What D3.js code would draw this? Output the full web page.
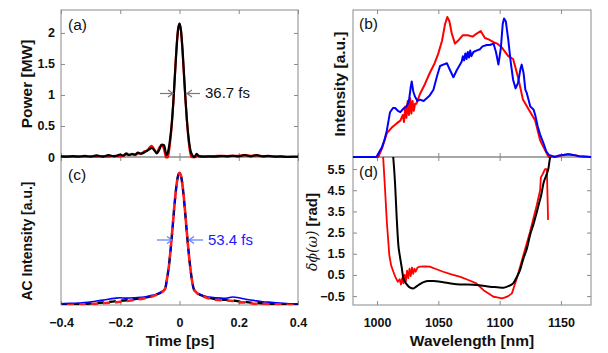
<!DOCTYPE html>
<html><head><meta charset="utf-8">
<script src="https://cdn.jsdelivr.net/npm/d3@7"></script>
<style>
body{margin:0;background:#fff}
svg{display:block;background:#fff}
text{font-family:"Liberation Sans",Arial,sans-serif}
</style>
</head><body>
<svg id="c" width="608" height="353"></svg>
<script>
// ---------- DATA ----------
// (a) temporal power [MW]
const powerTime = [-0.4,-0.38,-0.36,-0.34,-0.32,-0.3,-0.28,-0.26,-0.24,-0.22,-0.2,-0.19,-0.18,-0.17,-0.16,-0.15,-0.14,-0.13,-0.12,-0.11,-0.1,-0.094,-0.085,-0.077,-0.068,-0.06,-0.052,-0.044,-0.038,-0.032,-0.026,-0.02,-0.015,-0.01,-0.005,0,0.005,0.01,0.015,0.02,0.025,0.03,0.035,0.04,0.05,0.058,0.066,0.08,0.1,0.12,0.14,0.16,0.18,0.2,0.22,0.24,0.26,0.28,0.3,0.32,0.34,0.36,0.38,0.4];
const powerBlack = [0.01,0.005,0.015,0.005,0.02,0.005,0.025,0.005,0.03,0.01,0.04,0.02,0.06,0.035,0.045,0.04,0.07,0.055,0.07,0.10,0.13,0.145,0.11,0.06,0.12,0.20,0.19,0.03,0.10,0.28,0.55,0.95,1.35,1.75,2.04,2.15,2.04,1.75,1.35,0.95,0.60,0.34,0.16,0.06,0.0,0.05,0.01,0.005,0.01,0.005,0.015,0.01,0.02,0.01,0.03,0.01,0.03,0.01,0.02,0.005,0.01,0.0,0.005,0.005];
const powerRed   = [0.005,0.01,0.005,0.01,0.005,0.01,0.005,0.015,0.005,0.02,0.01,0.02,0.04,0.03,0.05,0.03,0.06,0.05,0.09,0.10,0.16,0.18,0.12,0.07,0.15,0.19,0.12,-0.03,0.02,0.22,0.52,0.95,1.37,1.77,2.06,2.15,2.03,1.72,1.32,0.93,0.58,0.30,0.10,0.0,-0.01,0.01,0.02,0.01,0.01,0.015,0.02,0.015,0.02,0.02,0.03,0.02,0.025,0.015,0.01,0.01,0.005,0.005,0.0,0.0];

// (c) autocorrelation (normalized)
const acTime = [-0.4,-0.37,-0.34,-0.31,-0.28,-0.25,-0.22,-0.2,-0.18,-0.15,-0.12,-0.1,-0.08,-0.065,-0.055,-0.048,-0.042,-0.036,-0.03,-0.024,-0.018,-0.012,-0.006,0,0.006,0.012,0.018,0.024,0.03,0.036,0.042,0.048,0.055,0.065,0.08,0.1,0.12,0.15,0.18,0.2,0.22,0.25,0.28,0.31,0.34,0.37,0.4];
const acBlue  = [0.01,0.012,0.015,0.02,0.03,0.04,0.05,0.055,0.052,0.055,0.06,0.07,0.08,0.095,0.11,0.13,0.20,0.29,0.42,0.57,0.73,0.87,0.967,1.0,0.967,0.87,0.73,0.57,0.42,0.29,0.19,0.12,0.10,0.085,0.07,0.06,0.055,0.05,0.06,0.055,0.045,0.035,0.025,0.02,0.015,0.01,0.01];
const acRed   = [0.0,0.0,0.002,0.005,0.01,0.015,0.02,0.025,0.03,0.04,0.05,0.06,0.075,0.09,0.105,0.125,0.20,0.29,0.42,0.57,0.73,0.87,0.967,1.0,0.967,0.87,0.73,0.57,0.42,0.29,0.19,0.12,0.10,0.08,0.065,0.05,0.04,0.035,0.03,0.02,0.02,0.01,0.01,0.005,0.005,0.0,0.0];
const acBlack = [0.004,0.004,0.006,0.01,0.015,0.02,0.027,0.032,0.036,0.045,0.055,0.064,0.078,0.092,0.107,0.127,0.20,0.29,0.42,0.57,0.73,0.87,0.967,1.0,0.967,0.87,0.73,0.57,0.42,0.29,0.19,0.122,0.102,0.083,0.068,0.055,0.045,0.04,0.035,0.027,0.024,0.015,0.013,0.008,0.007,0.003,0.003];

// (b) spectra (normalized)
const specRedWl  = [980,1001,1004,1008,1012,1016,1019,1021,1022,1023,1024,1025,1026,1027,1028,1029,1030,1031,1032,1035,1039,1043,1047,1050,1053,1055.5,1057.3,1059,1061,1063.6,1066,1070,1074,1078,1081,1084.5,1088,1091,1095,1098,1102,1107,1111,1115,1119,1123,1129,1133,1137,1140,1148,1152,1156,1160,1165,1175];
const specRedVal = [0,0,0.06,0.17,0.21,0.24,0.26,0.30,0.25,0.36,0.28,0.40,0.30,0.42,0.31,0.40,0.33,0.38,0.38,0.45,0.52,0.60,0.67,0.74,0.83,0.95,1.0,0.97,0.88,0.81,0.83,0.87,0.87,0.86,0.88,0.90,0.85,0.84,0.82,0.81,0.78,0.72,0.70,0.57,0.41,0.35,0.26,0.12,0.05,0,0.005,0.015,0.02,0.015,0.005,0];
const specBlueWl  = [980,999.5,1002,1004,1006,1008,1010.6,1013,1014.7,1017,1019,1022,1024,1026,1027.5,1028.3,1029.5,1031,1033,1035,1038,1040.5,1043,1046,1049,1051.4,1054,1057,1059,1062.3,1065,1067.7,1069,1070,1071,1072,1073,1074,1075,1076,1077,1078.6,1081,1084,1086,1089.5,1092,1095,1097,1099,1101,1102.5,1103.6,1105,1107,1109,1111,1113,1115,1117,1118,1119.5,1121,1122,1125,1127.6,1129,1131,1133,1135.7,1138,1140,1142,1145,1148,1152,1156,1160,1165,1175];
const specBlueVal = [0,0,0.04,0.07,0.12,0.19,0.32,0.35,0.35,0.33,0.32,0.35,0.36,0.40,0.50,0.54,0.47,0.43,0.40,0.41,0.40,0.42,0.44,0.48,0.58,0.65,0.66,0.67,0.63,0.57,0.62,0.66,0.68,0.72,0.69,0.74,0.70,0.75,0.71,0.76,0.72,0.75,0.76,0.77,0.79,0.80,0.80,0.81,0.75,0.66,0.78,0.95,0.99,0.97,0.84,0.68,0.55,0.49,0.53,0.63,0.66,0.60,0.48,0.46,0.36,0.34,0.30,0.22,0.16,0.10,0.04,0.015,0.01,0.0,0.01,0.015,0.02,0.015,0.005,0];

// (d) spectral phase [rad]
const phaseBlackWl  = [1012.5,1013.3,1014.7,1016,1017.4,1018.5,1020,1021.5,1022.8,1025,1027,1029.6,1032,1035,1038,1041.8,1046,1051.4,1058,1068,1078.6,1085,1092,1098,1103,1107,1111,1114,1116.6,1119.4,1122,1124.8,1127.6,1130,1132,1134,1135.7,1138,1139.8,1141,1142.5,1144];
const phaseBlackVal = [6.5,6.0,4.82,3.25,1.9,1.44,0.9,0.34,0.18,0.0,-0.1,-0.14,-0.05,0.07,0.16,0.21,0.21,0.18,0.12,0.05,0.04,0.0,-0.06,-0.08,-0.1,-0.03,0.1,0.4,0.73,1.28,1.7,2.38,2.9,3.4,3.85,4.3,4.82,5.2,5.53,6.0,6.3,6.5];
const phaseRedWl  = [1004.5,1005,1006.5,1008,1010,1011.5,1013.3,1015,1017,1018.5,1019.5,1020.5,1021.5,1022.5,1023.5,1024.5,1025.5,1026.5,1027.5,1028.5,1029.5,1030.5,1031.5,1033,1035,1039,1043,1048,1054,1060,1068,1075,1081,1086.8,1091,1095,1098,1101.7,1104,1107,1110,1114,1119.4,1124.8,1130.3,1133,1133.6,1135,1137,1138.5,1139.5];
const phaseRedVal = [6.5,6.05,4.59,3.0,1.44,0.95,0.65,0.40,0.18,0.30,0.05,0.35,0.10,0.50,0.20,0.70,0.35,0.80,0.45,0.85,0.55,0.80,0.65,0.85,0.89,0.90,0.89,0.78,0.65,0.54,0.41,0.25,0.10,-0.22,-0.38,-0.53,-0.56,-0.61,-0.57,-0.5,-0.37,0.34,1.44,2.54,3.8,4.5,5.1,5.25,5.5,5.5,3.1];

// tick values
const timeTicks = [-0.4,-0.2,0,0.2,0.4];
const powerTicks = [0,0.5,1,1.5,2];
const wlTicks = [1000,1050,1100,1150];
const phaseTicks = [-0.5,0.5,1.5,2.5,3.5,4.5,5.5];

// ---------- LAYOUT ----------
const svg = d3.select("#c");
const Lx = [61,298], Rx = [353,591];
const yTop = 10, yMid = 157, yBot = 305;
const gray = "#8a8a8a";

const xT = d3.scaleLinear([-0.4,0.4], Lx);
const yA = d3.scaleLinear([0,2.37], [yMid,yTop]);
const yC = d3.scaleLinear([0,1.12], [yBot,yMid]);
const xW = d3.scaleLinear([980.4,1174.5], Rx);
const yB = d3.scaleLinear([0,1.05], [yMid,yTop]);
const yD = d3.scaleLinear([-0.92,6.07], [yBot,yMid]);

const defs = svg.append("defs");
function clip(id,x0,y0,x1,y1){
  defs.append("clipPath").attr("id",id).append("rect")
    .attr("x",x0).attr("y",y0).attr("width",x1-x0).attr("height",y1-y0);
  return "url(#"+id+")";
}

// frames
[[Lx,yTop,yMid],[Lx,yMid,yBot],[Rx,yTop,yMid],[Rx,yMid,yBot]].forEach(([xr,y0,y1])=>{
  svg.append("rect").attr("x",xr[0]).attr("y",y0).attr("width",xr[1]-xr[0]).attr("height",y1-y0)
    .attr("fill","none").attr("stroke",gray).attr("stroke-width",1);
});

// axes helper
function styleAxis(g){
  g.select(".domain").remove();
  g.selectAll(".tick line").attr("stroke",gray);
  g.selectAll(".tick text").attr("fill","#111").attr("font-weight","bold").attr("font-size","12.5px")
    .style("font-family",'"Liberation Sans",Arial,sans-serif');
}
function axis(gen, tx, ty){
  const g = svg.append("g").attr("transform",`translate(${tx},${ty})`).call(gen);
  styleAxis(g); return g;
}
const TS = -4;
// left panels x ticks
axis(d3.axisBottom(xT).tickValues(timeTicks).tickSizeInner(TS).tickSizeOuter(0).tickFormat(""),0,yMid);
axis(d3.axisTop(xT).tickValues(timeTicks).tickSizeInner(TS).tickSizeOuter(0).tickFormat(""),0,yTop);
axis(d3.axisTop(xT).tickValues(timeTicks).tickSizeInner(TS).tickSizeOuter(0).tickFormat(""),0,yMid);
axis(d3.axisBottom(xT).tickValues(timeTicks).tickSizeInner(TS).tickSizeOuter(0).tickPadding(13).tickFormat(d=>d===0?"0":d3.format(".1f")(d)),0,yBot);
// (a) y ticks
axis(d3.axisLeft(yA).tickValues(powerTicks).tickSizeInner(TS).tickSizeOuter(0).tickPadding(6).tickFormat(d=>String(d)),Lx[0],0);
axis(d3.axisRight(yA).tickValues(powerTicks).tickSizeInner(TS).tickSizeOuter(0).tickFormat(""),Lx[1],0);
// right panels x ticks
axis(d3.axisTop(xW).tickValues(wlTicks).tickSizeInner(TS).tickSizeOuter(0).tickFormat(""),0,yTop);
axis(d3.axisBottom(xW).tickValues(wlTicks).tickSizeInner(TS).tickSizeOuter(0).tickFormat(""),0,yMid);
axis(d3.axisTop(xW).tickValues(wlTicks).tickSizeInner(TS).tickSizeOuter(0).tickFormat(""),0,yMid);
axis(d3.axisBottom(xW).tickValues(wlTicks).tickSizeInner(TS).tickSizeOuter(0).tickPadding(13).tickFormat(d3.format("d")),0,yBot);
// (d) y ticks
axis(d3.axisLeft(yD).tickValues(phaseTicks).tickSizeInner(TS).tickSizeOuter(0).tickPadding(8).tickFormat(d3.format(".1f")),Rx[0],0);
axis(d3.axisRight(yD).tickValues(phaseTicks).tickSizeInner(TS).tickSizeOuter(0).tickFormat(""),Rx[1],0);

// line helper
function drawLine(xs, ys, xsc, ysc, color, width, clipUrl, curve, dash){
  const pts = xs.map((x,i)=>[x,ys[i]]);
  const gen = d3.line().x(d=>xsc(d[0])).y(d=>ysc(d[1])).curve(curve||d3.curveLinear);
  const p = svg.append("path").attr("d",gen(pts)).attr("fill","none").attr("stroke",color)
    .attr("stroke-width",width).attr("stroke-linejoin","round").attr("clip-path",clipUrl);
  if(dash) p.attr("stroke-dasharray",dash);
  return p;
}

const clipA = clip("ca", Lx[0], yTop, Lx[1], yMid+1.5);
const clipC = clip("cc", Lx[0], yMid, Lx[1], yBot);
const clipB = clip("cb", Rx[0], yTop, Rx[1], yMid+1.2);
const clipD = clip("cd", Rx[0], yMid, Rx[1], yBot);

// (a)
drawLine(powerTime, powerRed, xT, yA, "#ff0000", 2.2, clipA, d3.curveMonotoneX);
drawLine(powerTime, powerBlack, xT, yA, "#000", 2.2, clipA, d3.curveMonotoneX);
// (c)
drawLine(acTime, acBlack, xT, yC, "#000", 2.4, clipC, d3.curveMonotoneX, "7,5");
drawLine(acTime, acBlue, xT, yC, "#0000ff", 1.6, clipC, d3.curveMonotoneX);
drawLine(acTime, acRed, xT, yC, "#ff1a1a", 2.6, clipC, d3.curveMonotoneX, "7,5").attr("stroke-dashoffset",6);
// (b)
drawLine(specRedWl, specRedVal, xW, yB, "#ff0000", 2, clipB);
drawLine(specBlueWl, specBlueVal, xW, yB, "#0000ff", 2, clipB);
// (d)
drawLine(phaseRedWl, phaseRedVal, xW, yD, "#ff0000", 1.8, clipD);
drawLine(phaseBlackWl, phaseBlackVal, xW, yD, "#000", 2, clipD, d3.curveMonotoneX);

// ---------- TEXT ----------
function txt(x,y,s,opt={}){
  const t = svg.append("text").attr("x",x).attr("y",y).text(s)
    .attr("font-size",opt.size||"15px").attr("fill",opt.fill||"#111")
    .attr("font-weight",opt.bold?"bold":"normal").attr("text-anchor",opt.anchor||"start");
  if(opt.rot) t.attr("transform",`rotate(-90,${x},${y})`);
  return t;
}
txt(68,30,"(a)",{size:"15.5px"});
txt(68,180,"(c)",{size:"15.5px"});
txt(359,29,"(b)",{size:"15.5px"});
txt(359,177,"(d)",{size:"15.5px"});

txt(180,346,"Time [ps]",{size:"15.5px",bold:true,anchor:"middle"});
txt(472,346,"Wavelength [nm]",{size:"15.5px",bold:true,anchor:"middle"});
txt(31.5,84,"Power [MW]",{size:"15.5px",bold:true,anchor:"middle",rot:true});
txt(31.5,241,"AC Intensity [a.u.]",{size:"14px",bold:true,anchor:"middle",rot:true});
txt(345,84,"Intensity [a.u.]",{size:"15.5px",bold:true,anchor:"middle",rot:true});
const ph = txt(317,232,"",{size:"15px",anchor:"middle",rot:true});
ph.append("tspan").attr("font-style","italic").attr("font-family",'"DejaVu Serif",serif').attr("font-size","14px").text("δϕ(ω)");
ph.append("tspan").attr("font-weight","bold").text(" [rad]");

// FWHM annotations
function arrow(x1,x2,y,color){
  const dir = Math.sign(x2-x1);
  svg.append("line").attr("x1",x1).attr("x2",x2).attr("y1",y).attr("y2",y).attr("stroke",color).attr("stroke-width",1.2);
  svg.append("path").attr("d",`M${x2-dir*5},${y-3.5}L${x2},${y}L${x2-dir*5},${y+3.5}`)
    .attr("fill","none").attr("stroke",color).attr("stroke-width",1.2);
}
arrow(160,173,93.5,"#777");
arrow(200,187,93.5,"#777");
txt(205,97.5,"36.7 fs",{size:"15px"});
arrow(157,172,240,"#5c7cff");
arrow(203,189,240,"#5c7cff");
txt(208,245,"53.4 fs",{size:"15px",fill:"#1a1aff"});
</script>
</body></html>
